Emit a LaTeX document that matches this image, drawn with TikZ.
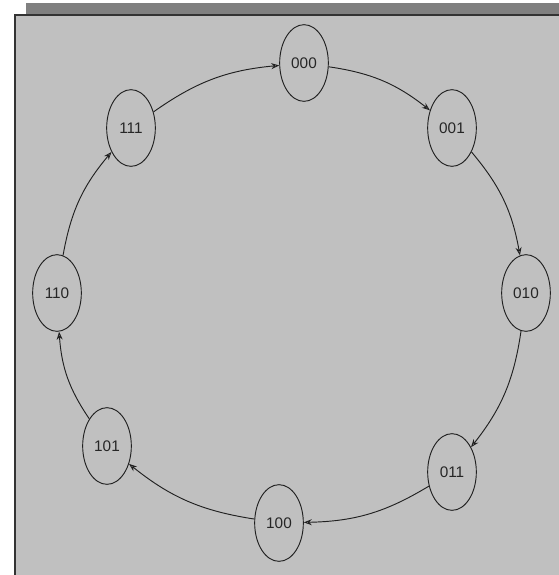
\documentclass[tikz,border=0pt]{standalone}
\usepackage{fontspec}
\setmainfont{Liberation Sans}
\usetikzlibrary{arrows.meta,shapes.geometric}
\definecolor{panel}{HTML}{C0C0C0}
\definecolor{bar}{HTML}{808080}
\definecolor{edge}{HTML}{202020}
\begin{document}
\begin{tikzpicture}[x=0.75pt,y=-0.75pt,
  state/.style={draw=edge,line width=0.7pt,ellipse,minimum width=36.5pt,minimum height=57.5pt,inner sep=0pt,font=\fontsize{11.5pt}{12pt}\selectfont,text=black!85},
  trans/.style={draw=edge,line width=0.7pt,-{Stealth[length=6pt,width=4.5pt,open,fill=panel]},bend left=15}]
\useasboundingbox (0,0) rectangle (559,575);
\fill[white] (0,0) rectangle (559,575);
\fill[bar] (26,3) rectangle (559,15);
\fill[panel] (15,15) rectangle (559,575);
\draw[black!80,line width=1.2pt] (15,575) -- (15,15) -- (559,15);
\node[state] (s000) at (304,63) {000};
\node[state] (s001) at (452,128) {001};
\node[state] (s010) at (526,293) {010};
\node[state] (s011) at (452,472) {011};
\node[state] (s100) at (279,523) {100};
\node[state] (s101) at (107,446) {101};
\node[state] (s110) at (57,293) {110};
\node[state] (s111) at (131,128) {111};
\draw[trans] (s000) to (s001);
\draw[trans] (s001) to (s010);
\draw[trans] (s010) to (s011);
\draw[trans] (s011) to (s100);
\draw[trans] (s100) to (s101);
\draw[trans] (s101) to (s110);
\draw[trans] (s110) to (s111);
\draw[trans] (s111) to (s000);
\end{tikzpicture}
\end{document}
